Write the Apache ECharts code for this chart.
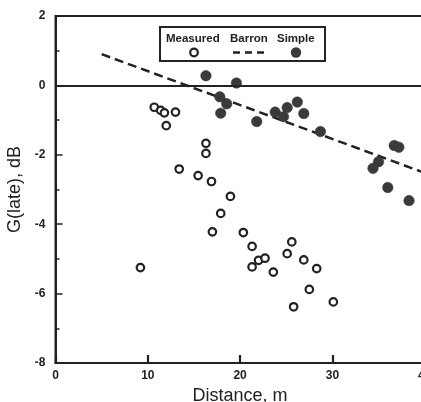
<!DOCTYPE html>
<html>
<head>
<meta charset="utf-8">
<script src="https://cdn.jsdelivr.net/npm/echarts@6/dist/echarts.min.js"></script>
<style>
  html, body { margin: 0; padding: 0; background: #fff; }
  #chart { width: 421px; height: 402px; }
</style>
</head>
<body>
<div id="chart"></div>
<script>
// Late-arriving sound level G(late) versus source–receiver distance
var measured = [
  [9.2, -5.25], [10.7, -0.63], [11.4, -0.72], [11.8, -0.79], [13.0, -0.77],
  [12.0, -1.16], [13.4, -2.41], [15.45, -2.60], [16.3, -1.67], [16.3, -1.96],
  [16.9, -2.77], [18.95, -3.2], [17.9, -3.69], [17.0, -4.22], [20.35, -4.24],
  [21.3, -4.64], [21.3, -5.23], [22.0, -5.04], [22.7, -4.98], [23.6, -5.38],
  [25.1, -4.85], [25.6, -4.51], [25.8, -6.38], [26.9, -5.03], [27.5, -5.88],
  [28.3, -5.28], [30.1, -6.24]
];
var simple = [
  [16.3, 0.28], [19.6, 0.07], [17.8, -0.33], [18.55, -0.53], [17.9, -0.80],
  [21.8, -1.04], [23.8, -0.77], [24.7, -0.90], [25.1, -0.64], [26.2, -0.48],
  [26.9, -0.81], [28.7, -1.33], [34.4, -2.39], [35.0, -2.20], [36.7, -1.73],
  [37.2, -1.78], [36.0, -2.94], [38.3, -3.32]
];
var barron = [[5, 0.9], [40, -2.52]];
var legendNames = ['Measured', 'Barron', 'Simple'];

var ink = '#222';
var font = '"Liberation Sans", Arial, Helvetica, sans-serif';

var chart = echarts.init(document.getElementById('chart'), null, { renderer: 'canvas' });
chart.setOption({
  animation: false,
  backgroundColor: '#fff',
  grid: {
    left: 55.5, top: 16, right: -3.7, bottom: 39,
    containLabel: false, outerBoundsMode: 'none',
    show: true, borderColor: ink, borderWidth: 2, backgroundColor: 'transparent'
  },
  xAxis: {
    type: 'value', min: 0, max: 40, interval: 10,
    name: 'Distance, m', nameLocation: 'middle', nameGap: 21,
    nameTextStyle: { fontFamily: font, fontSize: 18, color: ink },
    axisLine: { onZero: false, lineStyle: { color: ink, width: 2 } },
    axisTick: { show: true, inside: true, length: 8, lineStyle: { color: ink, width: 2.2 } },
    axisLabel: { fontFamily: font, fontSize: 12, fontWeight: 'bold', color: ink, margin: 7 },
    splitLine: { show: false }
  },
  yAxis: {
    type: 'value', min: -8, max: 2, interval: 2,
    name: 'G(late), dB', nameLocation: 'middle', nameGap: 21,
    nameTextStyle: { fontFamily: font, fontSize: 18, color: ink },
    axisLine: { onZero: false, lineStyle: { color: ink, width: 2 } },
    axisTick: { inside: true, length: 7, lineStyle: { color: ink, width: 1.5 } },
    minorTick: { show: true, splitNumber: 2, length: 4, lineStyle: { color: ink, width: 1.5 } },
    axisLabel: { fontFamily: font, fontSize: 12, fontWeight: 'bold', color: ink, margin: 10 },
    splitLine: { show: false }
  },
  series: [
    {
      name: legendNames[1], type: 'line', data: barron, symbol: 'none',
      lineStyle: { color: ink, width: 2.5, type: [9, 5] }, z: 2,
      markLine: {
        silent: true, symbol: 'none', label: { show: false },
        lineStyle: { color: ink, width: 2, type: 'solid' },
        data: [{ yAxis: 0 }]
      }
    },
    {
      name: legendNames[0], type: 'scatter', data: measured,
      symbol: 'circle', symbolSize: 7.5,
      itemStyle: { color: '#fff', borderColor: ink, borderWidth: 2.2, opacity: 1 }, z: 3
    },
    {
      name: legendNames[2], type: 'scatter', data: simple,
      symbol: 'circle', symbolSize: 10.5,
      itemStyle: { color: '#3a3a3a', borderColor: '#333', borderWidth: 0.5, opacity: 1 }, z: 4
    }
  ],
  graphic: [
    {
      type: 'group', left: 159, top: 26, z: 10,
      children: [
        { type: 'rect', shape: { x: 0, y: 0, width: 165, height: 34 },
          style: { fill: '#fff', stroke: ink, lineWidth: 2 } },
        { type: 'text', x: 6, y: 12, style: { text: legendNames[0], font: 'bold 11.5px ' + font, fill: ink, verticalAlign: 'middle' } },
        { type: 'text', x: 70, y: 12, style: { text: legendNames[1], font: 'bold 11.5px ' + font, fill: ink, verticalAlign: 'middle' } },
        { type: 'text', x: 117, y: 12, style: { text: legendNames[2], font: 'bold 11.5px ' + font, fill: ink, verticalAlign: 'middle' } },
        { type: 'circle', shape: { cx: 34, cy: 25.5, r: 3.8 }, style: { fill: '#fff', stroke: ink, lineWidth: 2.2 } },
        { type: 'line', shape: { x1: 73, y1: 25.5, x2: 106, y2: 25.5 }, style: { stroke: ink, lineWidth: 2.5, lineDash: [7, 5] } },
        { type: 'circle', shape: { cx: 136, cy: 25.5, r: 5.2 }, style: { fill: '#3a3a3a' } }
      ]
    }
  ]
});
</script>
</body>
</html>
